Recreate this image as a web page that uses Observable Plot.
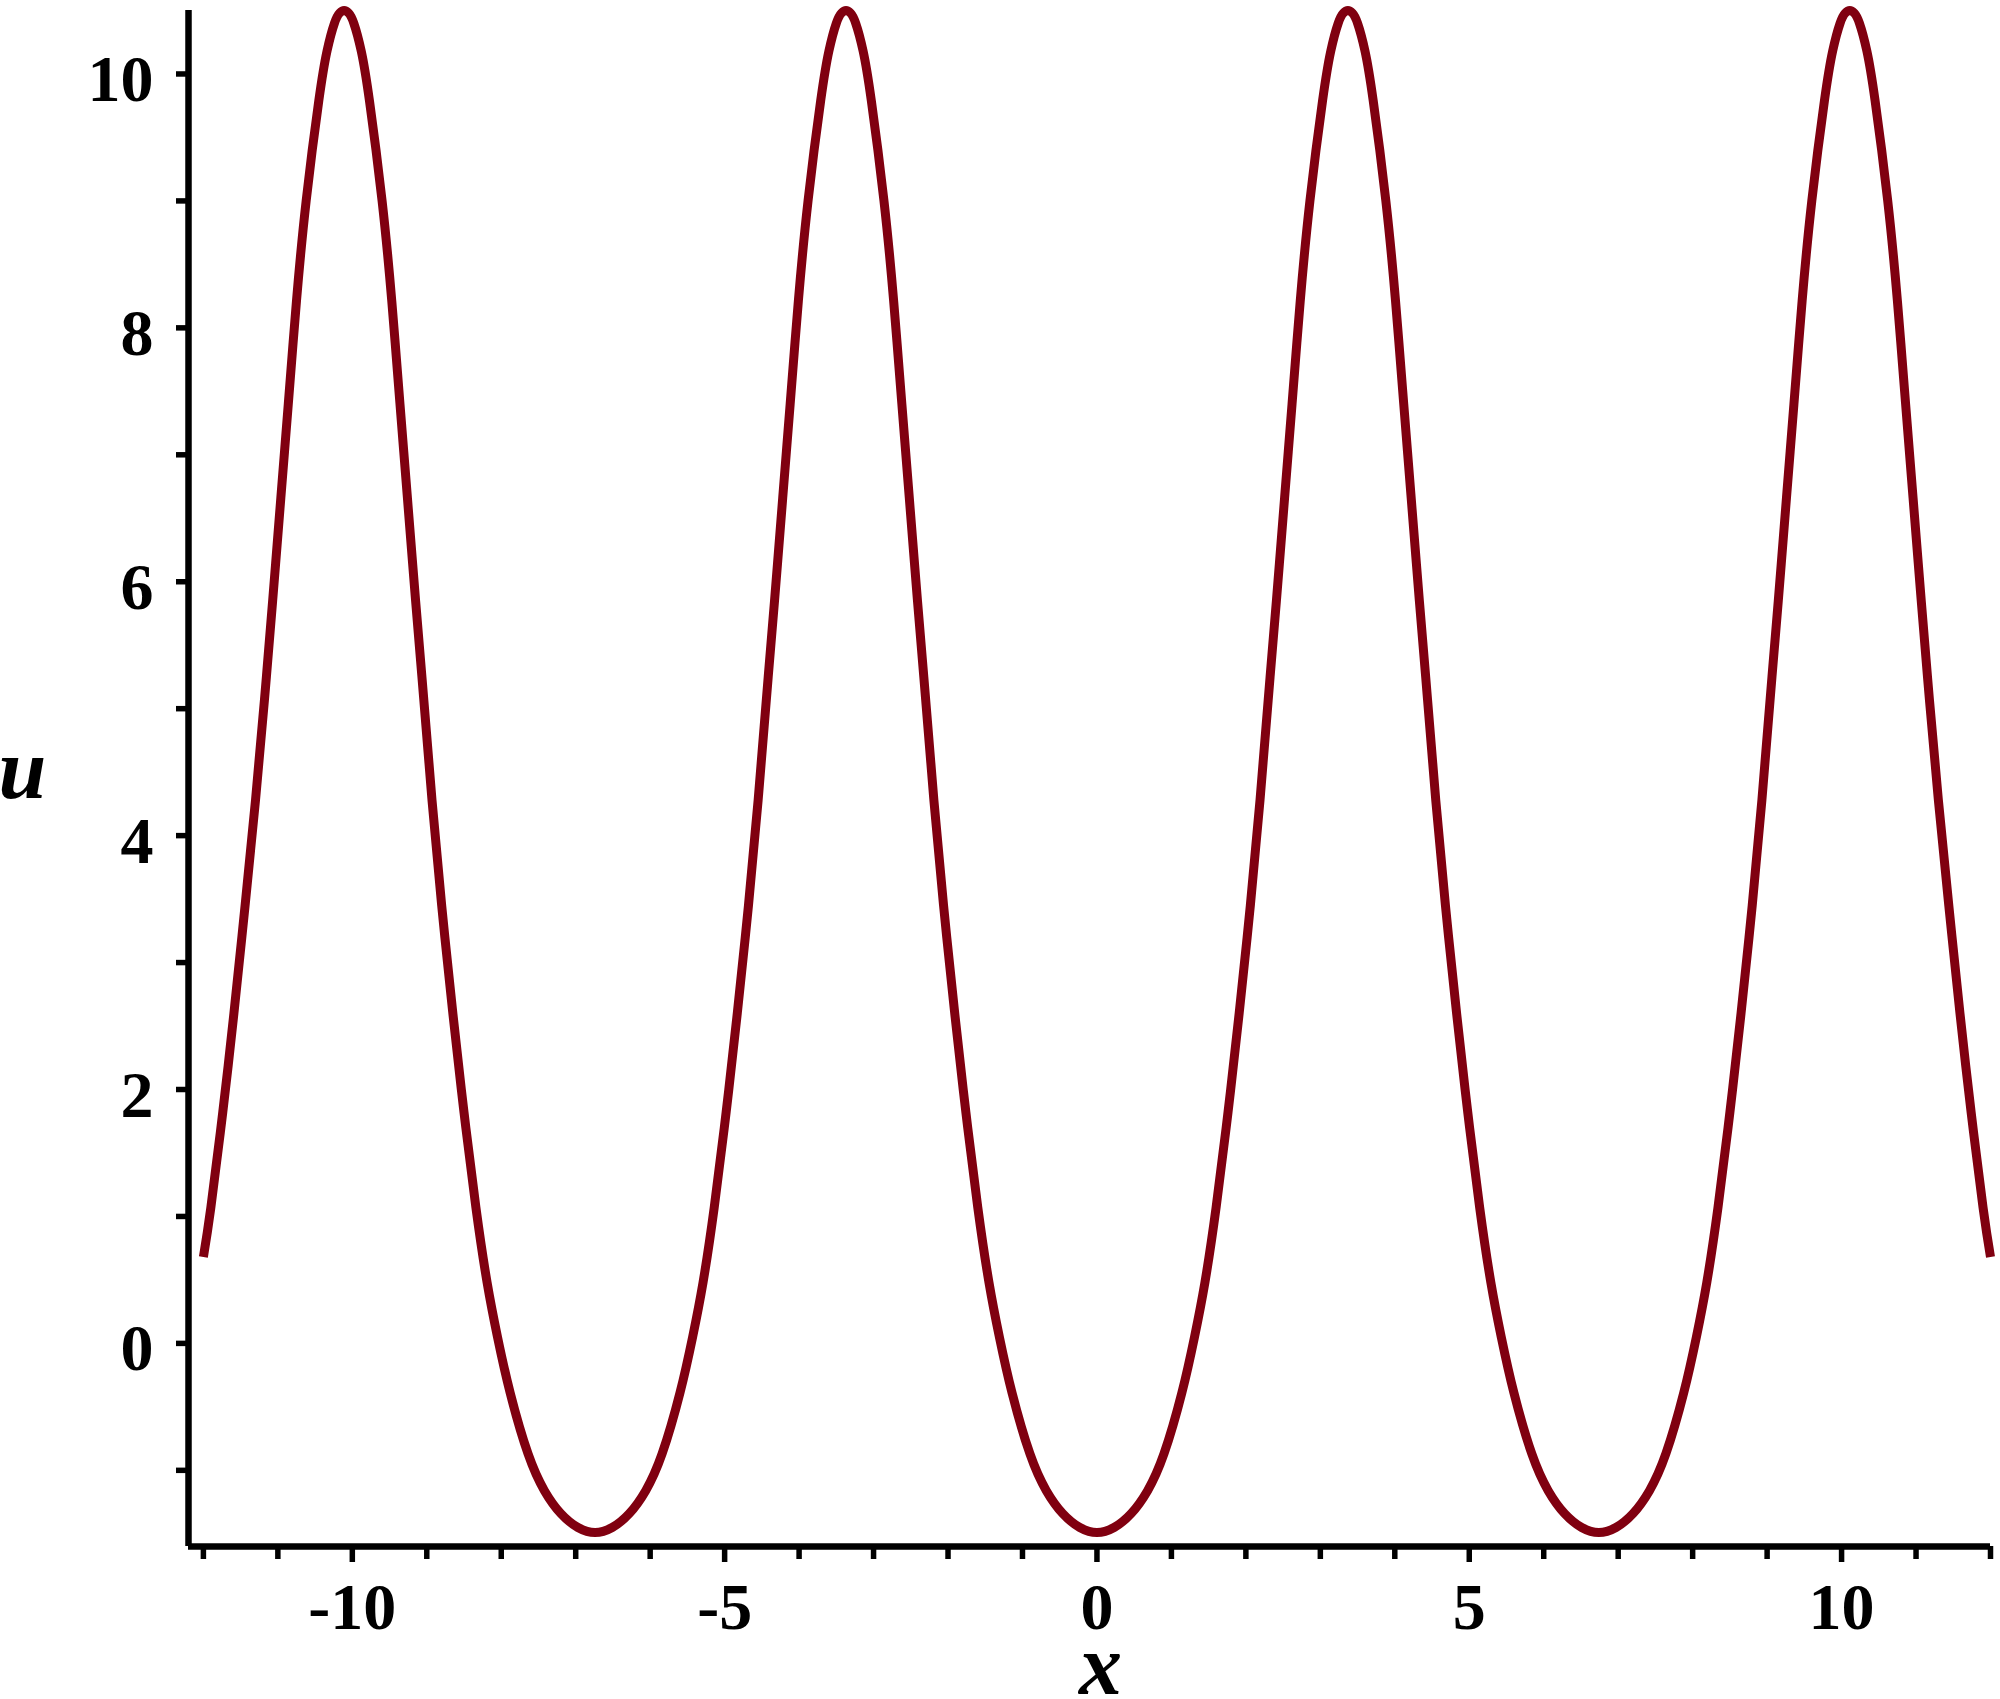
<!DOCTYPE html>
<html>
<head>
<meta charset="utf-8">
<script src="https://cdn.jsdelivr.net/npm/d3@7"></script>
<script src="https://cdn.jsdelivr.net/npm/@observablehq/plot@0.6"></script>
<style>
  html, body { margin: 0; padding: 0; background: #ffffff; }
  svg text { font-family: "Liberation Serif", "Times New Roman", serif !important; }
</style>
</head>
<body>
<div id="chart"></div>
<script>
// ---- data ----
const xValues = [
  -12.00, -11.90, -11.74, -11.59, -11.44, -11.30, -11.18, -11.07, -10.96, -10.86, -10.75, -10.62, -10.45, -10.34, -10.24, -10.17, -10.11,
  -10.05, -9.98, -9.88, -9.77, -9.60, -9.47, -9.36, -9.26, -9.15, -9.04, -8.93, -8.80, -8.65, -8.50, -8.34, -8.19, -8.05, -7.88, -7.64, -7.42, -7.20, -6.97, -6.74,
  -6.51, -6.28, -6.06, -5.84, -5.60, -5.43, -5.29, -5.14, -4.98, -4.83, -4.68, -4.55, -4.44, -4.33, -4.22, -4.12, -4.01, -3.88, -3.71, -3.60, -3.50, -3.43, -3.37,
  -3.31, -3.24, -3.14, -3.03, -2.86, -2.73, -2.62, -2.52, -2.41, -2.30, -2.19, -2.06, -1.91, -1.76, -1.60, -1.45, -1.31, -1.14, -0.90, -0.68, -0.46, -0.23, 0.00,
  0.23, 0.46, 0.68, 0.90, 1.14, 1.31, 1.45, 1.60, 1.76, 1.91, 2.06, 2.19, 2.30, 2.41, 2.52, 2.62, 2.73, 2.86, 3.03, 3.14, 3.24, 3.31, 3.37,
  3.43, 3.50, 3.60, 3.71, 3.88, 4.01, 4.12, 4.22, 4.33, 4.44, 4.55, 4.68, 4.83, 4.98, 5.14, 5.29, 5.43, 5.60, 5.84, 6.06, 6.28, 6.51, 6.74,
  6.97, 7.20, 7.42, 7.64, 7.88, 8.05, 8.19, 8.34, 8.50, 8.65, 8.80, 8.93, 9.04, 9.15, 9.26, 9.36, 9.47, 9.60, 9.77, 9.88, 9.98, 10.05, 10.11,
  10.17, 10.24, 10.34, 10.45, 10.62, 10.75, 10.86, 10.96, 11.07, 11.18, 11.30, 11.44, 11.59, 11.74, 11.90, 12.00
];
const uValues = [
  0.68, 1.07, 1.82, 2.60, 3.45, 4.28, 5.07, 5.85, 6.66, 7.40, 8.21, 9.00, 9.79, 10.18, 10.40, 10.48, 10.50,
  10.48, 10.40, 10.18, 9.79, 9.00, 8.21, 7.40, 6.66, 5.85, 5.07, 4.28, 3.45, 2.60, 1.82, 1.07, 0.48, 0.05, -0.39, -0.87, -1.16, -1.34, -1.45, -1.49,
  -1.45, -1.34, -1.16, -0.87, -0.39, 0.05, 0.48, 1.07, 1.82, 2.60, 3.45, 4.28, 5.07, 5.85, 6.66, 7.40, 8.21, 9.00, 9.79, 10.18, 10.40, 10.48, 10.50,
  10.48, 10.40, 10.18, 9.79, 9.00, 8.21, 7.40, 6.66, 5.85, 5.07, 4.28, 3.45, 2.60, 1.82, 1.07, 0.48, 0.05, -0.39, -0.87, -1.16, -1.34, -1.45, -1.49,
  -1.45, -1.34, -1.16, -0.87, -0.39, 0.05, 0.48, 1.07, 1.82, 2.60, 3.45, 4.28, 5.07, 5.85, 6.66, 7.40, 8.21, 9.00, 9.79, 10.18, 10.40, 10.48, 10.50,
  10.48, 10.40, 10.18, 9.79, 9.00, 8.21, 7.40, 6.66, 5.85, 5.07, 4.28, 3.45, 2.60, 1.82, 1.07, 0.48, 0.05, -0.39, -0.87, -1.16, -1.34, -1.45, -1.49,
  -1.45, -1.34, -1.16, -0.87, -0.39, 0.05, 0.48, 1.07, 1.82, 2.60, 3.45, 4.28, 5.07, 5.85, 6.66, 7.40, 8.21, 9.00, 9.79, 10.18, 10.40, 10.48, 10.50,
  10.48, 10.40, 10.18, 9.79, 9.00, 8.21, 7.40, 6.66, 5.85, 5.07, 4.28, 3.45, 2.60, 1.82, 1.07, 0.68
];

const xTicks = [-12, -11, -10, -9, -8, -7, -6, -5, -4, -3, -2, -1, 0, 1, 2, 3, 4, 5, 6, 7, 8, 9, 10, 11, 12];
const xTickLabels = [-10, -5, 0, 5, 10];
const yTicks = [-1, 0, 1, 2, 3, 4, 5, 6, 7, 8, 9, 10];
const yTickLabels = [0, 2, 4, 6, 8, 10];
const xDomain = [-12.2, 12];
const yDomain = [-1.6, 10.5];
const xLabel = "x";
const yLabel = "u";

const data = xValues.map((x, i) => ({x, u: uValues[i]}));

const serif = "Liberation Serif, Times New Roman, serif";

const chart = Plot.plot({
  width: 2000,
  height: 1699,
  marginLeft: 188,
  marginRight: 10,
  marginTop: 10,
  marginBottom: 153,
  style: {background: "white", fontFamily: serif, color: "black", overflow: "visible"},
  x: {domain: xDomain},
  y: {domain: yDomain},
  marks: [
    Plot.axisX({ticks: xTicks.filter(d => !xTickLabels.includes(d)), tickSize: 13, strokeWidth: 5.5, stroke: "black", tickFormat: () => "", label: null}),
    Plot.axisX({ticks: xTickLabels, tickSize: 16, strokeWidth: 5.5, stroke: "black", tickFormat: () => "", label: null}),
    Plot.axisY({ticks: yTicks, tickSize: 12, strokeWidth: 5.5, stroke: "black", tickFormat: () => "", label: null}),
    Plot.ruleX([xDomain[0]], {stroke: "black", strokeWidth: 6.5}),
    Plot.ruleY([yDomain[0]], {stroke: "black", strokeWidth: 6.5}),
    Plot.text(xTickLabels, {x: d => d, frameAnchor: "bottom", text: d => String(d), lineAnchor: "bottom", dy: 82, fontSize: 66, fontWeight: "bold", fill: "black"}),
    Plot.text(yTickLabels, {y: d => d, frameAnchor: "left", text: d => String(d), textAnchor: "end", lineAnchor: "bottom", dx: -35, dy: 27, fontSize: 66, fontWeight: "bold", fill: "black"}),
    Plot.line(data, {x: "x", y: "u", stroke: "#800010", strokeWidth: 9, curve: "natural", strokeLinecap: "butt", strokeLinejoin: "round"}),
    Plot.text([xLabel], {frameAnchor: "bottom", text: d => d, lineAnchor: "bottom", dx: 11, dy: 147, fontSize: 86, fontWeight: "bold", fontStyle: "italic", fill: "black"}),
    Plot.text([yLabel], {frameAnchor: "left", text: d => d, lineAnchor: "bottom", textAnchor: "middle", dx: -166, dy: 19, fontSize: 86, fontWeight: "bold", fontStyle: "italic", fill: "black"})
  ]
});

document.getElementById("chart").appendChild(chart);
</script>
</body>
</html>
